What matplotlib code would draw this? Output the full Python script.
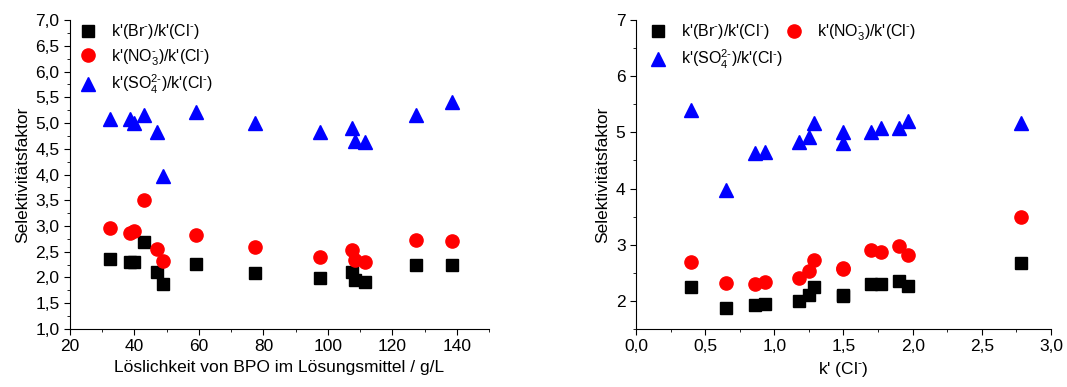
import numpy as np
import matplotlib.pyplot as plt
from matplotlib.ticker import MultipleLocator, FuncFormatter

plt.rcParams['font.family'] = ['Liberation Sans', 'DejaVu Sans']
plt.rcParams['mathtext.fontset'] = 'custom'
plt.rcParams['mathtext.rm'] = 'Liberation Sans'
plt.rcParams['mathtext.it'] = 'Liberation Sans:italic'

# Messpunkte: Löslichkeit von BPO (g/L), k'(Cl-) und Selektivitätsfaktoren
loeslichkeit = [32.5, 38.5, 40.0, 43.0, 47.0, 49.0, 59.0, 77.5, 97.5, 107.5, 108.5, 111.5, 127.5, 138.5]
k_cl = [1.90, 1.77, 1.70, 2.78, 1.50, 0.65, 1.97, 1.50, 1.18, 1.25, 0.93, 0.86, 1.29, 0.40]
sel_br = [2.35, 2.30, 2.30, 2.68, 2.10, 1.87, 2.27, 2.08, 1.99, 2.10, 1.95, 1.92, 2.25, 2.25]
sel_no3 = [2.97, 2.87, 2.90, 3.50, 2.56, 2.32, 2.82, 2.59, 2.40, 2.54, 2.34, 2.30, 2.72, 2.70]
sel_so4 = [5.08, 5.08, 5.00, 5.16, 4.82, 3.98, 5.21, 5.00, 4.83, 4.91, 4.66, 4.63, 5.16, 5.40]

# kurzer Bindestrich statt Minuszeichen, wie im Original
lab_br = "k'(Br$^{\u2010}$)/k'(Cl$^{\u2010}$)"
lab_no3 = "k'(NO$_3^{\u2010}$)/k'(Cl$^{\u2010}$)"
lab_so4 = "k'(SO$_4^{2\u2010}$)/k'(Cl$^{\u2010}$)"

komma = FuncFormatter(lambda v, p: f'{v:.1f}'.replace('.', ','))

fig = plt.figure(figsize=(10.67, 3.87), dpi=100)
ax1 = fig.add_axes([0.0656, 0.150, 0.3927, 0.798])
ax2 = fig.add_axes([0.596, 0.150, 0.389, 0.798])


def streuung(ax, x):
    h1, = ax.plot(x, sel_br, 's', color='black', ms=8.5, label=lab_br)
    h2, = ax.plot(x, sel_no3, 'o', color='red', ms=9.5, label=lab_no3)
    h3, = ax.plot(x, sel_so4, '^', color='blue', ms=10, label=lab_so4)
    for s in ['top', 'right']:
        ax.spines[s].set_visible(False)
    ax.tick_params(which='both', direction='out', labelsize=12.5)
    ax.tick_params(which='major', length=4)
    ax.tick_params(which='minor', length=2.5)
    ax.set_ylabel('Selektivitätsfaktor', fontsize=12.5)
    return h1, h2, h3


streuung(ax1, loeslichkeit)
ax1.set_xlim(20, 150)
ax1.set_ylim(1, 7)
ax1.xaxis.set_major_locator(MultipleLocator(20))
ax1.xaxis.set_minor_locator(MultipleLocator(10))
ax1.yaxis.set_major_locator(MultipleLocator(0.5))
ax1.yaxis.set_minor_locator(MultipleLocator(0.25))
ax1.yaxis.set_major_formatter(komma)
ax1.set_xlabel('Löslichkeit von BPO im Lösungsmittel / g/L', fontsize=12.5)
ax1.legend(loc='upper left', frameon=False, fontsize=11.5, handletextpad=0.45,
           borderaxespad=0, labelspacing=0.35, bbox_to_anchor=(-0.01, 1.013))

h1, h2, h3 = streuung(ax2, k_cl)
ax2.set_xlim(0, 3.0)
ax2.set_ylim(1.5, 7)
ax2.xaxis.set_major_locator(MultipleLocator(0.5))
ax2.xaxis.set_minor_locator(MultipleLocator(0.25))
ax2.yaxis.set_major_locator(MultipleLocator(1))
ax2.yaxis.set_minor_locator(MultipleLocator(0.5))
ax2.xaxis.set_major_formatter(komma)
ax2.set_xlabel("k' (Cl$^{\u2010}$)", fontsize=12.5)
ax2.legend([h1, h3, h2], [lab_br, lab_so4, lab_no3], loc='upper left', ncol=2,
           frameon=False, fontsize=11.5, handletextpad=0.45, columnspacing=-0.35,
           borderaxespad=0, labelspacing=0.4, bbox_to_anchor=(0.0, 1.013))

fig.savefig('out.png', dpi=100)
